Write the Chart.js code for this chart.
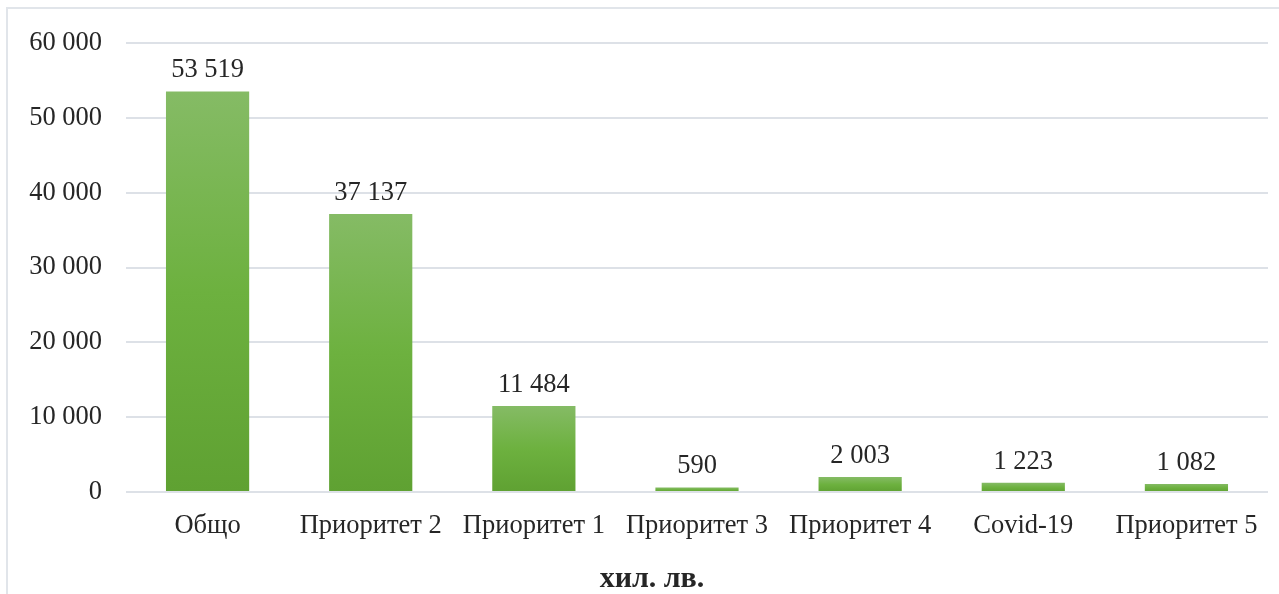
<!DOCTYPE html>
<html>
<head>
<meta charset="utf-8">
<script src="https://cdn.jsdelivr.net/npm/chart.js@4.4.0/dist/chart.umd.min.js"></script>
<style>
  html, body { margin: 0; padding: 0; background: #fff; overflow: hidden; }
  #wrap { position: relative; width: 1279px; height: 594px; }
  #frame { position: absolute; left: 6px; top: 7px; width: 1300px; height: 620px;
           border: 2px solid #e1e5ea; box-sizing: border-box; pointer-events: none; }
  canvas { position: absolute; left: 0; top: 0; }
</style>
</head>
<body>
<div id="wrap">
  <div id="frame"></div>
  <canvas id="chart" width="1279" height="594"></canvas>
</div>
<script>
const categories = ["Общо", "Приоритет 2", "Приоритет 1", "Приоритет 3", "Приоритет 4", "Covid-19", "Приоритет 5"];
const values = [53519, 37137, 11484, 590, 2003, 1223, 1082];
const yTicks = [0, 10000, 20000, 30000, 40000, 50000, 60000];
const axisTitle = "хил. лв.";

const serif = "'Liberation Serif', 'Times New Roman', serif";
const textColor = "#262626";

// space as thousands separator
function fmt(v) {
  return String(v).replace(/\B(?=(\d{3})+(?!\d))/g, " ");
}

function barGradient(context) {
  const chart = context.chart;
  if (!chart.chartArea || context.type !== "data") return "#6db13f";
  const y = chart.scales.y;
  const top = y.getPixelForValue(context.parsed.y);
  const bottom = y.getPixelForValue(0);
  if (!isFinite(top) || bottom - top < 1) return "#6db13f";
  const g = chart.ctx.createLinearGradient(0, top, 0, bottom);
  g.addColorStop(0, "#85bb65");
  g.addColorStop(0.5, "#6db13f");
  g.addColorStop(1, "#5fa132");
  return g;
}

// value labels above the bars + the unit title under the axis
const valueLabels = {
  id: "valueLabels",
  afterDatasetsDraw(chart) {
    const ctx = chart.ctx;
    const meta = chart.getDatasetMeta(0);
    ctx.save();
    ctx.font = "26.5px " + serif;
    ctx.fillStyle = textColor;
    ctx.textAlign = "center";
    ctx.textBaseline = "bottom";
    meta.data.forEach((bar, i) => {
      ctx.fillText(fmt(values[i]), bar.x, bar.y - 8);
    });
    ctx.font = "bold 30px " + serif;
    ctx.textBaseline = "middle";
    ctx.fillText(axisTitle, 652, 579);
    ctx.restore();
  }
};

new Chart(document.getElementById("chart"), {
  type: "bar",
  data: {
    labels: categories,
    datasets: [{
      data: values,
      backgroundColor: barGradient,
      borderWidth: 0,
      barPercentage: 0.51,
      categoryPercentage: 1
    }]
  },
  options: {
    responsive: false,
    animation: false,
    layout: { padding: { top: 43, right: 11, bottom: 0, left: 0 } },
    plugins: { legend: { display: false }, tooltip: { enabled: false } },
    scales: {
      x: {
        grid: { display: false, drawTicks: false },
        border: { display: false },
        ticks: { color: textColor, font: { family: serif, size: 26.5 }, padding: 18, maxRotation: 0 },
        afterFit(scale) { scale.height = 102; }
      },
      y: {
        min: 0,
        max: 60000,
        afterBuildTicks(scale) { scale.ticks = yTicks.map(v => ({ value: v })); },
        grid: { color: "#dde1e7", lineWidth: 2, drawTicks: false },
        border: { display: false },
        ticks: { color: textColor, font: { family: serif, size: 26.5 }, padding: 24,
                 callback: v => fmt(v) },
        afterFit(scale) { scale.width = 126; }
      }
    }
  },
  plugins: [valueLabels]
});
</script>
</body>
</html>
